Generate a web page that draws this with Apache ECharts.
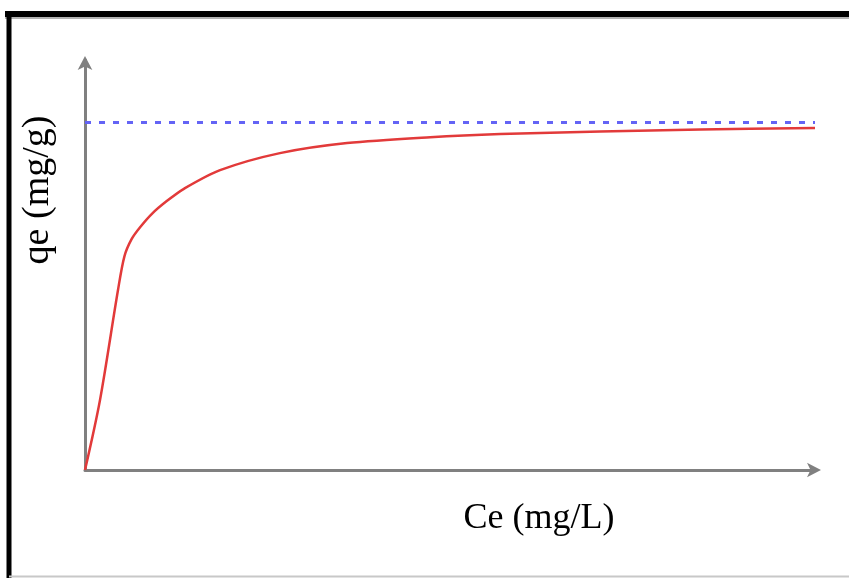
<!DOCTYPE html>
<html>
<head>
<meta charset="utf-8">
<script src="https://cdn.jsdelivr.net/npm/echarts@6/dist/echarts.min.js"></script>
<style>
html,body{margin:0;padding:0;background:#fff;}
#chart{width:849px;height:578px;}
</style>
</head>
<body>
<div id="chart"></div>
<script>
// Ce values (arbitrary units, 0-100 along the x axis)
const ceValues = [0, 2.05, 4.52, 5.4, 6.4, 7.6, 9.2, 11.2, 13.6, 18.5, 26.7, 35.9, 47.3, 56.9, 70.6, 84.3, 100];
// qe values (arbitrary units, qmax = 100)
const qeValues = [0, 20.1, 51.8, 61.5, 66.5, 70.0, 73.8, 77.4, 81.0, 86.3, 91.2, 94.1, 95.8, 96.7, 97.4, 98.0, 98.4];
// saturation (qmax) line
const qmaxX = [0, 100];
const qmaxY = [100, 100];
const xLabel = 'Ce (mg/L)';
const yLabel = 'qe (mg/g)';

const chart = echarts.init(document.getElementById('chart'));
const curve = ceValues.map((x, i) => [x, qeValues[i]]);
const qmaxLine = qmaxX.map((x, i) => [x, qmaxY[i]]);

chart.setOption({
  animation: false,
  backgroundColor: '#fff',
  grid: { left: 85, right: 34, top: 60, bottom: 108 },
  xAxis: {
    type: 'value', min: 0, max: 100,
    axisLine: { show: true, symbol: ['none', 'arrow'], symbolSize: [11, 14], symbolOffset: [0, 6],
      lineStyle: { color: '#808080', width: 3 } },
    axisTick: { show: false }, axisLabel: { show: false }, splitLine: { show: false }
  },
  yAxis: {
    type: 'value', min: 0, max: 118,
    axisLine: { show: true, symbol: ['none', 'arrow'], symbolSize: [11, 14], symbolOffset: [0, 4],
      lineStyle: { color: '#808080', width: 3 } },
    axisTick: { show: false }, axisLabel: { show: false }, splitLine: { show: false }
  },
  series: [
    {
      type: 'line', data: qmaxLine, symbol: 'none', z: 2,
      lineStyle: { color: '#6464f5', width: 3, type: [6, 8] }
    },
    {
      type: 'line', data: curve, symbol: 'none', smooth: 0.3, z: 3,
      lineStyle: { color: '#e23a3a', width: 2.5 }
    }
  ],
  graphic: [
    { type: 'line', shape: { x1: 5, y1: 14, x2: 849, y2: 14 }, style: { stroke: '#000', lineWidth: 6 } },
    { type: 'line', shape: { x1: 5, y1: 18, x2: 849, y2: 18 }, style: { stroke: '#999', lineWidth: 1.5 } },
    { type: 'line', shape: { x1: 9, y1: 11, x2: 9, y2: 578 }, style: { stroke: '#000', lineWidth: 5 } },
    { type: 'line', shape: { x1: 9, y1: 576.5, x2: 849, y2: 576.5 }, style: { stroke: '#c8c8c8', lineWidth: 2 } },
    { type: 'text', x: 539, y: 519, style: { text: xLabel, font: '36px "Liberation Serif", "Times New Roman", serif', fill: '#000', align: 'center', verticalAlign: 'middle' } },
    { type: 'text', x: 38, y: 190, rotation: Math.PI / 2, style: { text: yLabel, font: '38px "Liberation Serif", "Times New Roman", serif', fill: '#000', align: 'center', verticalAlign: 'middle' } }
  ]
});
</script>
</body>
</html>
